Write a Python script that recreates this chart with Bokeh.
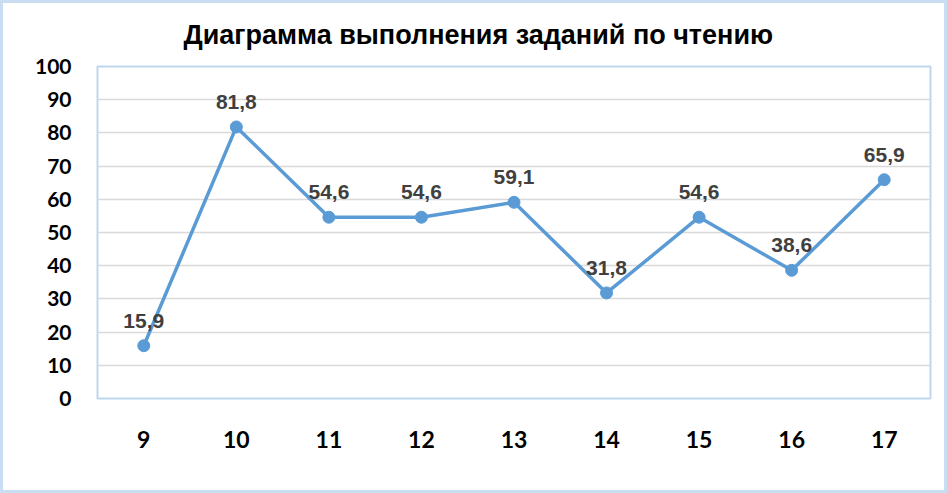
from bokeh.plotting import figure
from bokeh.models import ColumnDataSource, FixedTicker, Range1d
from bokeh.core.properties import value
from bokeh.embed import file_html
from bokeh.resources import INLINE

tasks = ["9", "10", "11", "12", "13", "14", "15", "16", "17"]
percent = [15.9, 81.8, 54.6, 54.6, 59.1, 31.8, 54.6, 38.6, 65.9]
labels = [f"{v:.1f}".replace(".", ",") for v in percent]
y_ticks = list(range(0, 101, 10))

src = ColumnDataSource(dict(x=tasks, y=percent, lab=labels))

p = figure(width=947, height=493, x_range=tasks, y_range=Range1d(0, 100),
           output_backend="svg", toolbar_location=None,
           min_border_left=97, min_border_right=17, min_border_top=66, min_border_bottom=95,
           title="Диаграмма выполнения заданий по чтению")

p.title.align = "left"
p.title.text_font = "Liberation Sans"
p.title.text_font_size = "27px"
p.title.text_font_style = "bold"
p.title.text_color = "#000000"
p.title.standoff = 33
p.title.offset = 86

p.background_fill_color = "white"
p.border_fill_color = None
p.outline_line_color = "#BDD7EE"
p.outline_line_width = 2
p.styles = {"background-color": "white",
            "box-shadow": "inset 0 0 0 3px #C9DEF2"}

p.line("x", "y", source=src, line_color="#5B9BD5", line_width=3.5)
p.scatter("x", "y", source=src, size=12, fill_color="#5B9BD5", line_color="#5B9BD5")
p.text("x", "y", text="lab", source=src, text_align="center", text_baseline="middle",
       y_offset=-25, text_font=value("Liberation Sans"), text_font_size="21px",
       text_font_style="bold", text_color="#404040")

p.yaxis.ticker = FixedTicker(ticks=y_ticks)
p.ygrid.ticker = FixedTicker(ticks=y_ticks)
p.ygrid.grid_line_color = "#D9D9D9"
p.ygrid.grid_line_width = 1.5
p.xgrid.grid_line_color = None

for ax in (p.xaxis, p.yaxis):
    ax.axis_line_color = None
    ax.major_tick_line_color = None
    ax.minor_tick_line_color = None
    ax.major_label_text_font = "Lato"
    ax.major_label_text_font_style = "bold"
    ax.major_label_text_color = "#000000"

p.yaxis.major_label_text_font_size = "21px"
p.yaxis.major_label_standoff = 20
p.xaxis.major_label_text_font_size = "23px"
p.xaxis.major_label_standoff = 26

open("out.html", "w").write(file_html(p, INLINE))
